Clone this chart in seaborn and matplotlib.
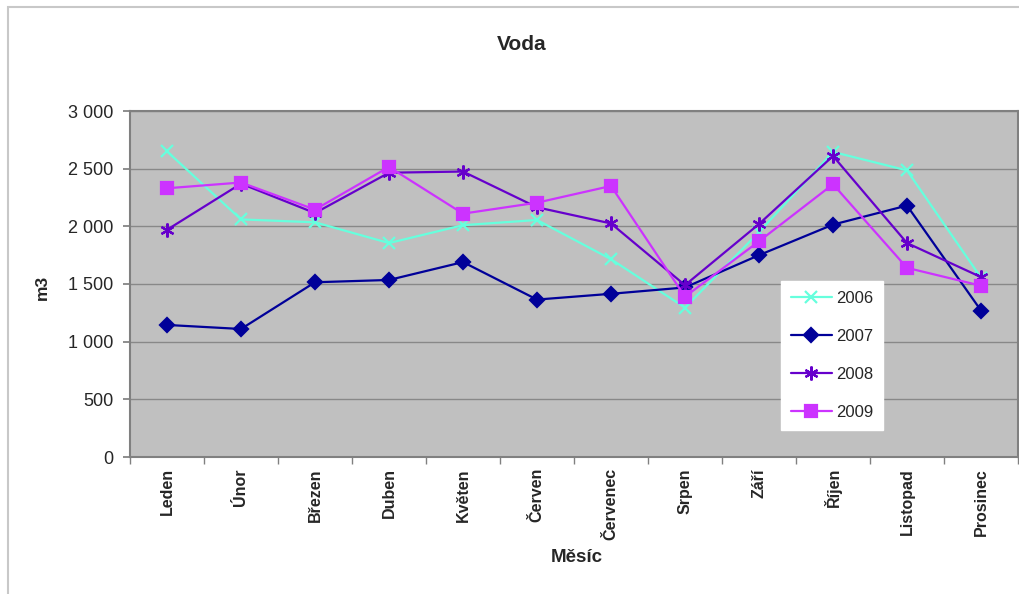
import matplotlib
matplotlib.use("Agg")
import matplotlib.pyplot as plt
import matplotlib.ticker as mticker
from matplotlib.patches import Rectangle
import seaborn as sns
import pandas as pd

months = ["Leden", "Únor", "Březen", "Duben", "Květen", "Červen",
          "Červenec", "Srpen", "Září", "Říjen", "Listopad", "Prosinec"]
years = ["2006", "2007", "2008", "2009"]

v2006 = [2650, 2060, 2035, 1855, 2010, 2055, 1715, 1295, 1950, 2645, 2485, 1555]
v2007 = [1145, 1110, 1515, 1535, 1690, 1365, 1415, 1470, 1750, 2015, 2180, 1270]
v2008 = [1970, 2370, 2115, 2465, 2475, 2165, 2025, 1490, 2020, 2610, 1855, 1560]
v2009 = [2330, 2380, 2145, 2515, 2110, 2205, 2350, 1390, 1870, 2365, 1640, 1485]

colors = {"2006": "#66FFDD", "2007": "#000099", "2008": "#6600CC", "2009": "#CC33FF"}
markers = {"2006": "x", "2007": "D", "2008": (6, 2, 0), "2009": "s"}
msizes = {"2006": 9, "2007": 7, "2008": 10, "2009": 8}

rows = []
for y, vals in zip(years, [v2006, v2007, v2008, v2009]):
    for m, v in zip(months, vals):
        rows.append({"Měsíc": m, "m3": v, "rok": y})
df = pd.DataFrame(rows)

sns.set_theme(style="white")
plt.rcParams["font.family"] = ["Liberation Sans", "DejaVu Sans"]

fig = plt.figure(figsize=(10.2, 5.94), dpi=100)
ax = fig.add_axes([130 / 1020, 1 - 457 / 594, 888 / 1020, 346 / 594])
ax.set_facecolor("#C0C0C0")

for y in years:
    sub = df[df["rok"] == y]
    sns.lineplot(data=sub, x="Měsíc", y="m3", ax=ax, color=colors[y],
                 marker=markers[y], markersize=msizes[y],
                 markeredgewidth=1.6, markeredgecolor=colors[y],
                 linewidth=1.6, sort=False, label=y)

ax.set_xlim(-0.5, 11.5)
ax.set_ylim(0, 3000)
ax.yaxis.set_major_locator(mticker.MultipleLocator(500))
ax.yaxis.set_major_formatter(mticker.FuncFormatter(
    lambda v, p: f"{int(v):,}".replace(",", " ")))
ax.grid(axis="y", color="#888888", linewidth=1)
ax.set_axisbelow(True)

for s in ax.spines.values():
    s.set_color("#808080")
    s.set_linewidth(1.5)

ax.set_xticks(range(12))
ax.set_xticklabels(months, rotation=90, fontweight="bold", fontsize=11.5)
ax.xaxis.set_minor_locator(mticker.FixedLocator([i - 0.5 for i in range(13)]))
ax.tick_params(axis="x", which="major", length=0, pad=8)
ax.tick_params(axis="x", which="minor", length=5, color="#808080", bottom=True)
ax.tick_params(axis="y", length=5, color="#808080", left=True, labelsize=13, pad=7)

ax.set_xlabel("")
ax.set_ylabel("")
fig.text(577 / 1020, 1 - 557 / 594, "Měsíc", ha="center", va="center",
         fontweight="bold", fontsize=13.5)
fig.text(42 / 1020, 1 - 287 / 594, "m3", ha="center", va="center",
         rotation=90, fontweight="bold", fontsize=12.5)
fig.text(522 / 1020, 1 - 44 / 594, "Voda", ha="center", va="center",
         fontweight="bold", fontsize=15)

leg = ax.legend(loc="lower left", bbox_to_anchor=(0.733, 0.078),
                frameon=True, fontsize=12, labelspacing=1.38,
                handlelength=2.45, handletextpad=0.25, borderpad=0.6,
                borderaxespad=0, fancybox=False)
leg.get_frame().set_facecolor("white")
leg.get_frame().set_edgecolor("white")
leg.get_frame().set_alpha(1)

fig.patches.append(Rectangle((8 / 1020, -0.1), 1.2, 1 - 7 / 594 + 0.1,
                             transform=fig.transFigure, fill=False,
                             edgecolor="#C8C8C8", linewidth=1.5))

fig.savefig("out.png", dpi=100)
